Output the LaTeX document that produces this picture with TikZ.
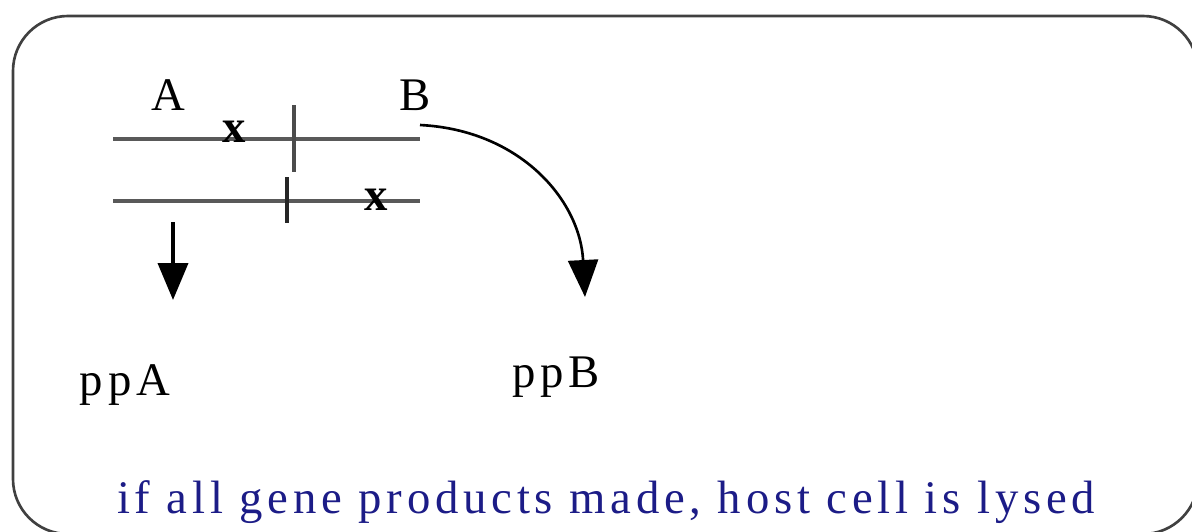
\documentclass[tikz,border=0pt]{standalone}
\usepackage{fontspec}
\setmainfont{Liberation Serif}[LetterSpace=10.2]
\usepackage{tikz}
\usetikzlibrary{positioning}
\usetikzlibrary{calc}
\usetikzlibrary{arrows.meta}

\definecolor{lysisblue}{RGB}{28,28,135}

\begin{document}
\begin{tikzpicture} [
            gene/.style={line width=2.4pt,black!65},
            cut/.style={line width=2pt,black!70},
            outpt/.style={-{Triangle[length=0.74cm,width=0.6cm]},black},
         every node/.append style={inner sep=0pt,font=\fontsize{26.6pt}{31pt}\selectfont}]
\useasboundingbox (0,0) rectangle (23.84,-10.62);

% cell
\draw[line width=1.5pt,black!75,rounded corners=1.1cm] (0.26,-0.32) rectangle (23.96,-10.68);

%genes
\draw[gene] (2.26,-2.78) -- (8.4,-2.78);
\draw[gene] (2.26,-4.02) -- (8.4,-4.02);
\draw[cut] (5.88,-2.1) -- (5.88,-3.44);
\draw[cut,black!85] (5.74,-3.54) -- (5.74,-4.46);

%labels
\node (A) at (3.36,-2.2) [anchor=base] {A};
\node (B) at (8.3,-2.2) [anchor=base] {B};
\node (x1) at (4.74,-2.84) [anchor=base] {\textbf{x}};
\node (x2) at (7.58,-4.2) [anchor=base] {\textbf{x}};

%products
\node (ppA) at (2.5,-7.9) [anchor=base] {ppA};
\node (ppB) at (11.12,-7.74) [anchor=base] {ppB};
\coordinate (startA) at (3.46,-4.44);
\coordinate (endA) at (3.46,-6.0);
\coordinate (startB) at (8.4,-2.5);
\coordinate (endB) at (11.7,-5.94);
\draw [outpt,line width=2.2pt] (startA) -- (endA);
\draw [outpt,line width=1.5pt] (startB) .. controls (10.4,-2.6) and (11.6,-4.0) .. (endB);

%lysis
\node (lysis) at (12.12,-10.26) [anchor=base,color=lysisblue] {if all gene products made, host cell is lysed};

\end{tikzpicture}
\end{document}
